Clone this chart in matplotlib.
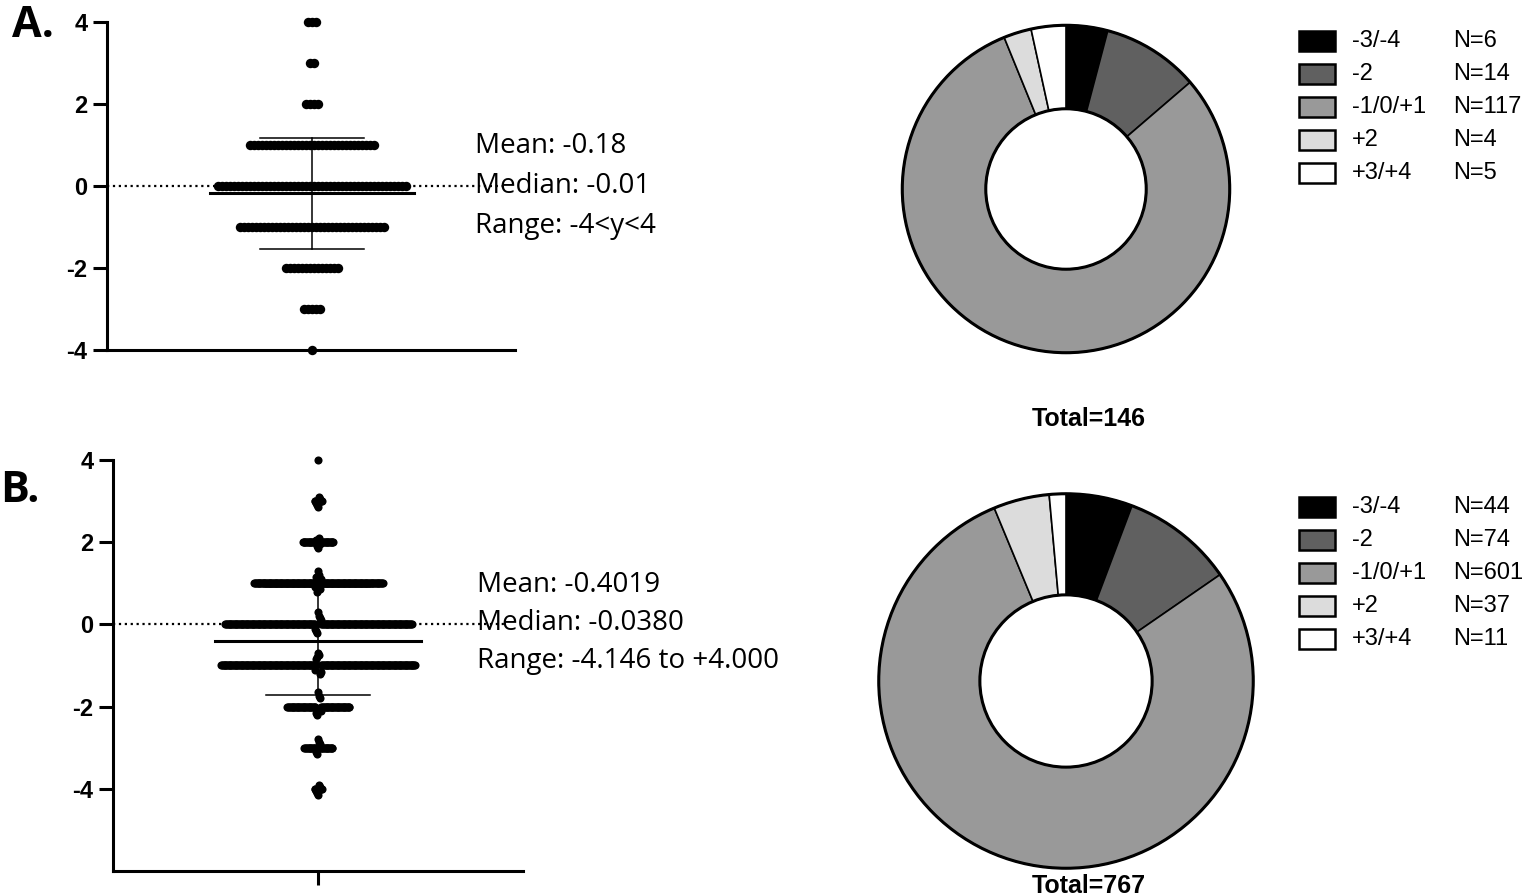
import numpy as np
import matplotlib
matplotlib.use("Agg")
import matplotlib.pyplot as plt
from matplotlib.patches import Rectangle, Circle

# ---- data ----
a_levels = [4, 3, 2, 1, 0, -1, -2, -3, -4]
a_counts = [3, 2, 4, 32, 48, 37, 14, 5, 1]
a_mean, a_sd = -0.18, 1.35
a_stats = ["Mean: -0.18", "Median: -0.01", "Range: -4<y<4"]

b_levels = [4, 3, 2, 1, 0, -1, -2, -3, -4]
b_counts = [1, 10, 37, 152, 220, 229, 74, 34, 10]
# visible off-integer values (part of the counts above)
b_offvals = [3.1, 3.05, 2.95, 2.9, 2.85,
             2.1, 2.05, 1.95, 1.9, 1.85,
             1.3, 1.2, 1.15, 1.1, 0.9, 0.85, 0.8,
             0.3, 0.2, 0.15, 0.1, -0.1, -0.15, -0.2,
             -0.7, -0.75, -0.8, -0.85, -1.1, -1.15, -1.2,
             -1.65, -1.75, -1.8, -2.1, -2.15, -2.2,
             -2.8, -2.85, -2.9, -3.1, -3.15,
             -3.9, -3.95, -4.05, -4.1, -4.146]
b_mean, b_sd = -0.4019, 1.31
b_stats = ["Mean: -0.4019", "Median: -0.0380", "Range: -4.146 to +4.000"]

y_ticks = [-4, -2, 0, 2, 4]
y_ticklabels = ["-4", "-2", "0", "2", "4"]

cats = ["-3/-4", "-2", "-1/0/+1", "+2", "+3/+4"]
pie_a = [6, 14, 117, 4, 5]
pie_b = [44, 74, 601, 37, 11]
pie_colors = ["#000000", "#606060", "#999999", "#dcdcdc", "#ffffff"]

plt.rcParams["font.family"] = "Liberation Sans"

W, H = 1535, 896
fig = plt.figure(figsize=(W / 100, H / 100), dpi=100)


def rect(x0, y0, x1, y1):
    # pixel box (top-left origin) -> figure fraction rect
    return [x0 / W, 1 - y1 / H, (x1 - x0) / W, (y1 - y0) / H]


def swarm_a(levels, counts, step):
    xs, ys = [], []
    for lv, n in zip(levels, counts):
        off = (np.arange(n) - (n - 1) / 2) * step
        xs += list(off)
        ys += [lv] * n
    return np.array(xs), np.array(ys)


def swarm_b(levels, counts, offvals, step):
    xs, ys = [], []
    for lv, n in zip(levels, counts):
        vals = [v for v in offvals if round(v) == lv]
        vals = vals + [lv] * (n - len(vals))
        vals = sorted(vals, key=lambda v: -abs(v - lv))
        for k, v in enumerate(vals):
            sgn = 1 if k % 2 else -1
            xs.append(sgn * ((k + 1) // 2) * step)
            ys.append(v)
    return np.array(xs), np.array(ys)


def style_scatter(ax, ylim):
    ax.set_ylim(*ylim)
    ax.set_yticks(y_ticks)
    ax.set_yticklabels(y_ticklabels, fontdict={"fontsize": 17, "fontweight": "bold"})
    for s in ["top", "right"]:
        ax.spines[s].set_visible(False)
    for s in ["left", "bottom"]:
        ax.spines[s].set_linewidth(2.2)
    ax.tick_params(axis="y", length=10, width=2.2, pad=4, labelsize=17)


def draw_scatter(ax, xs, ys, ms, mean, sd, mean_hw, cap_hw, dot_end):
    ax.plot([ax.get_xlim()[0], dot_end], [0, 0], ls=":", color="black", lw=1.6,
            clip_on=False, zorder=1)
    ax.scatter(xs, ys, s=ms, color="black", linewidths=0, clip_on=False, zorder=3)
    ax.plot([-mean_hw, mean_hw], [mean, mean], color="black", lw=2.2, zorder=4)
    ax.plot([0, 0], [mean - sd, mean + sd], color="black", lw=1.1, zorder=4)
    for y in (mean - sd, mean + sd):
        ax.plot([-cap_hw, cap_hw], [y, y], color="black", lw=1.1, zorder=4)


# ---- panel A scatter ----
axA = fig.add_axes(rect(107, 22, 515, 350))
axA.set_xlim(-205, 203)
style_scatter(axA, (-4, 4))
axA.set_xticks([])
xa, ya = swarm_a(a_levels, a_counts, 4.0)
draw_scatter(axA, xa, ya, 46, a_mean, a_sd, 102, 52, 193)

# ---- panel B scatter ----
axB = fig.add_axes(rect(113, 460, 523, 871))
axB.set_xlim(-205, 205)
style_scatter(axB, (-6, 4))
axB.set_xticks([0], labels=[""])
axB.tick_params(axis="x", length=10, width=2.2)
xb, yb = swarm_b(b_levels, b_counts, b_offvals, 0.85)
draw_scatter(axB, xb, yb, 34, b_mean, b_sd, 103, 52, 187)

# stats text
for i, t in enumerate(a_stats):
    fig.text(475 / W, 1 - (146 + 40 * i) / H, t, fontsize=20, family="Open Sans",
             va="center", ha="left")
for i, t in enumerate(b_stats):
    fig.text(477 / W, 1 - (585 + 38 * i) / H, t, fontsize=20, family="Open Sans",
             va="center", ha="left")

# panel labels
fig.text(12 / W, 1 - 37 / H, "A.", fontsize=31, family="Open Sans",
         fontweight="bold", va="baseline")
fig.text(0 / W, 1 - 502 / H, "B.", fontsize=31, family="Open Sans",
         fontweight="bold", va="baseline")


# ---- donuts ----
def donut(cx, cy, r, ratio, counts):
    ax = fig.add_axes(rect(cx - r, cy - r, cx + r, cy + r))
    ax.pie(counts, colors=pie_colors, startangle=90, counterclock=False,
           radius=1, wedgeprops=dict(width=1 - ratio, edgecolor="black", linewidth=1.2))
    ax.add_patch(Circle((0, 0), 1, fill=False, lw=2.2, ec="black"))
    ax.add_patch(Circle((0, 0), ratio, fill=False, lw=2.2, ec="black"))
    ax.set_xlim(-1.02, 1.02)
    ax.set_ylim(-1.02, 1.02)
    ax.set_aspect("equal")
    ax.axis("off")
    return ax


donut(1066, 189, 167, 0.49, pie_a)
donut(1066, 681, 191, 0.46, pie_b)

fig.text(1089 / W, 1 - 419 / H, "Total=" + str(sum(pie_a)), fontsize=18,
         fontweight="bold", ha="center", va="center")
fig.text(1089 / W, 1 - 886 / H, "Total=" + str(sum(pie_b)), fontsize=18,
         fontweight="bold", ha="center", va="center")


# ---- legends ----
def legend(y_top, counts):
    ax = fig.add_axes(rect(1290, y_top - 25, 1535, y_top + 150))
    ax.set_xlim(1290, 1535)
    ax.set_ylim(y_top + 150, y_top - 25)
    ax.axis("off")
    for i, (c, col, n) in enumerate(zip(cats, pie_colors, counts)):
        yc = y_top + 33 * i
        ax.add_patch(Rectangle((1299, yc - 10), 36, 20, fc=col, ec="black", lw=1.8))
        ax.text(1352, yc, c, fontsize=17, va="center")
        ax.text(1453, yc, "N=" + str(n), fontsize=17, va="center")


legend(41, pie_a)
legend(507, pie_b)

fig.savefig("out.png", dpi=100)
